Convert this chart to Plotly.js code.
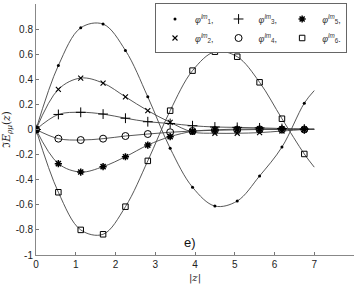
<!DOCTYPE html>
<html>
<head>
<meta charset="utf-8">
<script src="https://cdn.plot.ly/plotly-3.0.1.min.js"></script>
<style>html,body{margin:0;padding:0;background:#fff;}#chart{width:357px;height:285px;}</style>
</head>
<body>
<div id="chart"></div>
<script>
// sample positions |z| (last point = end of the curves, no marker)
var zPts = [0, 0.5625, 1.125, 1.6875, 2.25, 2.8125, 3.375, 3.9375, 4.5, 5.0625, 5.625, 6.1875, 6.75, 7.0];
var phi1 = [0, 0.51, 0.81, 0.84, 0.63, 0.26, -0.15, -0.46, -0.61, -0.57, -0.37, -0.14, 0.21, 0.31];
var phi2 = [0, 0.32, 0.41, 0.37, 0.26, 0.15, 0.057, -0.02, -0.03, -0.03, -0.025, -0.012, 0.0, 0.005];
var phi3 = [0, 0.12, 0.137, 0.123, 0.09, 0.062, 0.048, 0.03, 0.02, 0.017, 0.013, 0.008, 0.004, 0.002];
var phi4 = [0, -0.073, -0.084, -0.073, -0.052, -0.036, -0.022, -0.012, -0.006, -0.003, 0, 0, 0, 0];
var phi5 = [0, -0.272, -0.339, -0.296, -0.217, -0.124, -0.057, -0.015, -0.003, 0.003, 0.005, 0.004, 0.002, 0];
var phi6 = [0, -0.50, -0.80, -0.835, -0.615, -0.25, 0.15, 0.469, 0.62, 0.58, 0.376, 0.086, -0.195, -0.30];
var seriesNames = ['1', '2', '3', '4', '5', '6'];
var yTickVals = [-1, -0.8, -0.6, -0.4, -0.2, 0, 0.2, 0.4, 0.6, 0.8, 1];
var yTickText = ['-1', '-0.8', '-0.6', '-0.4', '-0.2', '0', '0.2', '0.4', '0.6', '0.8', '1'];
var xTickVals = [0, 1, 2, 3, 4, 5, 6, 7, 8];

var series = [phi1, phi2, phi3, phi4, phi5, phi6];
var markerStyles = [
  {symbol: 'circle', size: 3, color: '#000', line: {width: 0}},
  {symbol: 'x-thin-open', size: 5, color: '#000', line: {width: 1.1, color: '#000'}},
  {symbol: 'cross-thin-open', size: 7, color: '#000', line: {width: 1, color: '#000'}},
  {symbol: 'circle-open', size: 7, color: '#000', line: {width: 1, color: '#000'}},
  {symbol: 'asterisk-open', size: 6, color: '#000', line: {width: 1.5, color: '#000'}},
  {symbol: 'square-open', size: 5.5, color: '#000', line: {width: 1, color: '#000'}}
];
var groups = ['g1', 'g1', 'g2', 'g2', 'g3', 'g3'];
var nMarks = zPts.length - 1;

var traces = [];
series.forEach(function (vals, i) {
  traces.push({
    x: zPts, y: vals, mode: 'lines', type: 'scatter',
    line: {shape: 'spline', smoothing: 1, color: '#444', width: 0.9},
    showlegend: false, hoverinfo: 'skip'
  });
});
series.forEach(function (vals, i) {
  traces.push({
    x: zPts.slice(0, nMarks), y: vals.slice(0, nMarks), mode: 'markers', type: 'scatter',
    marker: markerStyles[i],
    legendgroup: groups[i],
    name: '<i>φ</i><sup><i>lm</i></sup><sub>' + seriesNames[i] + '</sub>' + (i === 5 ? '.' : ',')
  });
});
var layout = {
  width: 357, height: 285,
  margin: {l: 36, r: 3, t: 4, b: 30, pad: 0},
  paper_bgcolor: '#fff', plot_bgcolor: '#fff',
  font: {family: 'Liberation Sans, Arial, sans-serif', size: 10, color: '#222'},
  xaxis: {
    range: [0, 8], tickvals: xTickVals, ticks: 'inside', ticklen: 3, tickcolor: '#777',
    showline: true, linecolor: '#888', linewidth: 1, showgrid: false, zeroline: false,
    tickfont: {size: 10, color: '#222'},
    title: {text: '|<i>z</i>|', font: {size: 10, family: 'DejaVu Serif, serif', color: '#222'}, standoff: 4}
  },
  yaxis: {
    range: [-1, 1], tickvals: yTickVals, ticktext: yTickText, ticks: 'inside', ticklen: 3, tickcolor: '#777',
    showline: true, linecolor: '#888', linewidth: 1, showgrid: false, zeroline: false,
    tickfont: {size: 10, color: '#222'},
    title: {text: 'ℑ<i>E</i><sub><i>ρμ</i></sub>(<i>z</i>)', font: {size: 10.5, family: 'DejaVu Serif, serif', color: '#222'}, standoff: 6}
  },
  showlegend: true,
  legend: {
    orientation: 'h', traceorder: 'grouped', tracegroupgap: 0,
    x: 0.978, y: 1.002, xanchor: 'right', yanchor: 'top',
    bgcolor: '#fff', bordercolor: '#666', borderwidth: 1,
    font: {size: 9, color: '#333'}, itemwidth: 30
  },
  annotations: [{
    x: 3.87, y: -0.9, xref: 'x', yref: 'y', text: 'e)', showarrow: false,
    font: {size: 13, color: '#111', family: 'Liberation Sans, Arial, sans-serif'}
  }]
};
Plotly.newPlot('chart', traces, layout, {staticPlot: true, displayModeBar: false});
</script>
</body>
</html>
